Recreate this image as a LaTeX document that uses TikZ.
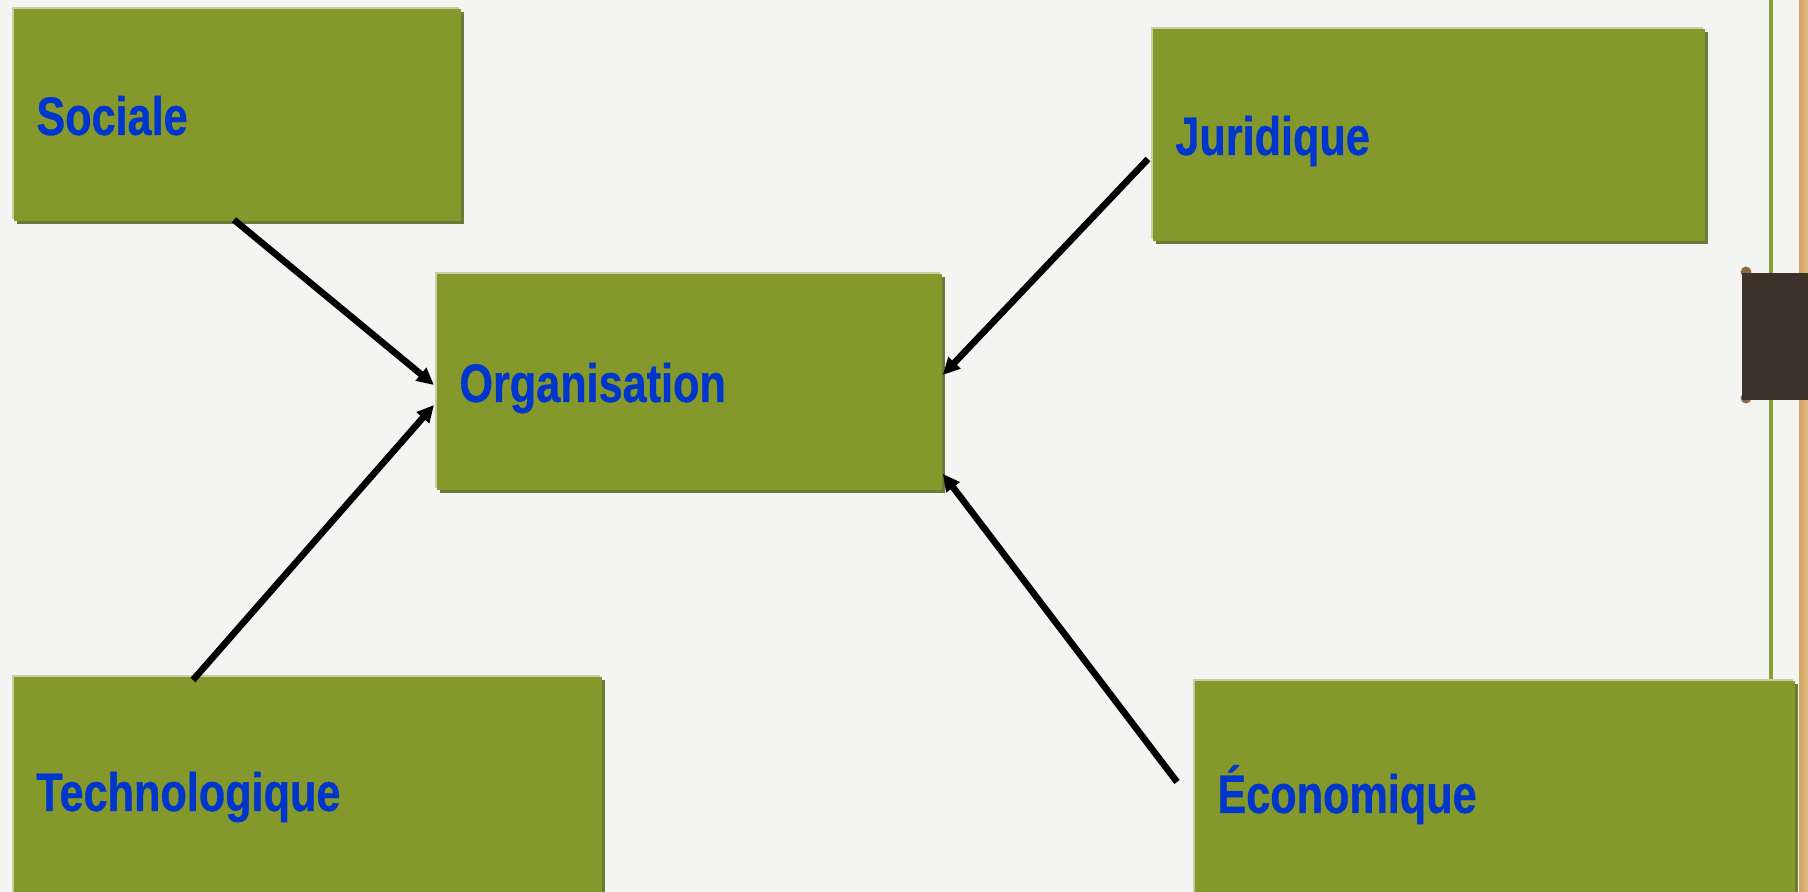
\documentclass[tikz,border=0pt]{standalone}
\usepackage{fontspec}
\newfontfamily\narrowsans{Liberation Sans}[FakeStretch=0.8, BoldFeatures={FakeBold=0.6}]
\usetikzlibrary{arrows.meta,calc,shadows}
\definecolor{bgc}{HTML}{F4F4F3}
\definecolor{boxc}{HTML}{84982C}
\definecolor{hlc}{HTML}{C9CFA2}
\definecolor{shc}{HTML}{6C7B3A}
\definecolor{txtc}{HTML}{0036CC}
\definecolor{linec}{HTML}{86A030}
\definecolor{tabc}{HTML}{3C3229}
\definecolor{knobc}{HTML}{8A6A40}
\definecolor{woodA}{HTML}{D2A466}
\definecolor{woodB}{HTML}{E4BC82}
\tikzset{
  gbox/.style={rectangle, fill=boxc, inner xsep=11pt, inner ysep=0pt,
    align=left, anchor=north west, text height=19.5pt, text depth=0pt,
    font=\narrowsans\bfseries\fontsize{27pt}{32pt}\selectfont, text=txtc,
    general shadow={shadow xshift=-1.2pt, shadow yshift=1.2pt, fill=hlc},
    general shadow={shadow xshift=1.5pt, shadow yshift=-1.5pt, fill=shc}},
  conn/.style={line width=3.3pt, -{Triangle[length=8.5pt,width=8pt]}}
}
\newcommand{\gb}[6]{% name, x1, y1, x2, y2, text
  \pgfmathsetmacro{\bw}{(#4-#2)*0.5}\pgfmathsetmacro{\bh}{(#5-#3)*0.5}
  \pgfmathsetmacro{\tw}{\bw-22}
  \node[gbox, minimum width=\bw pt, minimum height=\bh pt, text width=\tw pt] (#1) at (#2,#3) {#6};}
\begin{document}
\begin{tikzpicture}[x=0.5pt,y=-0.5pt]
\useasboundingbox (0,0) rectangle (1808,892);
\clip (0,0) rectangle (1808,892);
\fill[bgc] (0,0) rectangle (1808,892);
% right decoration
\fill[linec] (1769,0) rectangle (1773,892);
\shade[left color=woodA, right color=woodB] (1799,0) rectangle (1808,892);
\fill[knobc] (1746,272) circle (5.5);
\fill[knobc] (1746,398) circle (5.5);
\fill[tabc] (1742,273) rectangle (1808,400);
% boxes
\gb{soc}{14}{9}{461}{221}{Sociale}
\gb{org}{437}{274}{942}{490}{Organisation}
\gb{jur}{1153}{29}{1705}{241}{Juridique}
\gb{tec}{14}{677}{602}{905}{Technologique}
\gb{eco}{1195}{681}{1795}{905}{Économique}
% connectors
\draw[conn] ($(soc.south west)+(220,-2)$) -- ($(org.north west)+(-3,111)$);
\draw[conn] ($(tec.north west)+(179,3)$) -- ($(org.north west)+(-3,131)$);
\draw[conn] ($(jur.north west)+(-5,130)$) -- ($(org.north east)+(0,101)$);
\draw[conn] ($(eco.north west)+(-18,101)$) -- ($(org.south east)+(0,-17)$);
\end{tikzpicture}
\end{document}
